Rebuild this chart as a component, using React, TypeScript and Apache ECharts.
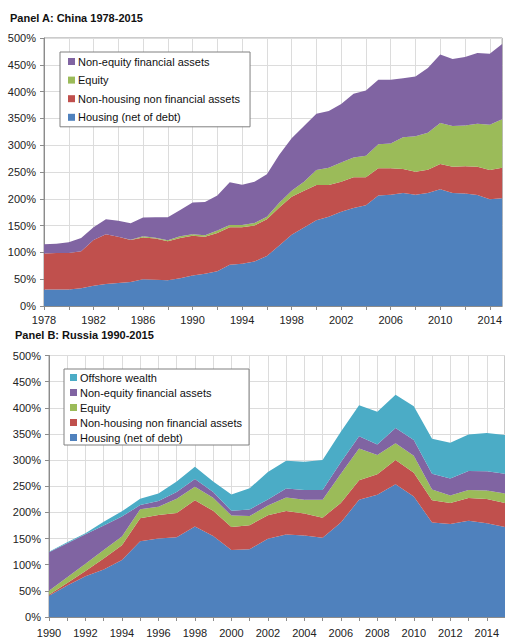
import React, { useEffect, useRef } from "react";
import * as echarts from "echarts";

const chinaYears = ["1978","1979","1980","1981","1982","1983","1984","1985","1986","1987","1988","1989","1990","1991","1992","1993","1994","1995","1996","1997","1998","1999","2000","2001","2002","2003","2004","2005","2006","2007","2008","2009","2010","2011","2012","2013","2014","2015"];
const chinaHousing = [31,31,31,33,38,41,43,45,50,49,48,52,57,60,65,77,79,83,93.5,113,133,146.5,160,166.5,176,183,188,206,207.6,211,207.6,211,218,211,210,207,199,201];
const chinaNonHousing = [67,68,68,69,85,93,86,78,78,77,73,75,74,69,71,70,68,67,68.5,71,71,68.5,65.7,59.2,56,57,52,51,49.4,44.6,43,43,47,49,50.6,53,54.7,57];
const chinaEquity = [0,0,0,0,0,0,0,0.5,2,1.5,1.5,3,3,3,5,4,4,5,4.5,8.6,11,17,28,32.3,35.5,37,40.5,44.7,46,59.2,66.1,69,76.6,76,76.1,79.8,84.3,90.5];
const chinaNonEquity = [17,17,20,25,24,28,30,31,35,38,43,49,59,62,65,80,75,77,79.5,89.4,98,104,104.8,106,109.5,119,121.5,120.3,119,110.2,111.3,121,127.4,125,127.8,132.2,132.7,140.5];

const russiaYears = ["1990","1991","1992","1993","1994","1995","1996","1997","1998","1999","2000","2001","2002","2003","2004","2005","2006","2007","2008","2009","2010","2011","2012","2013","2014","2015"];
const russiaHousing = [40.6,60,78,91,109,145,150,152.5,173,155,128,129.6,149.5,157.6,155.8,151.4,180.7,224,233.6,253.6,230.5,180.7,177.6,183.8,179.4,172];
const russiaNonHousing = [1.9,5,10,21,28,44,45,46.5,50,48,44,46,45,45,42.2,38.6,37.3,37.7,39.3,46.7,45.5,42.3,40.4,43.6,46.1,46];
const russiaEquity = [7.5,11,14,16,17,17,16,27,26,25,22,17.5,18.5,26,26.3,34.3,56,60.3,36.8,31.7,32.4,21,14.4,15.6,16.2,18];
const russiaNonEquity = [74,65,56,47,38,8,11,13,15,11,9,12.5,11.5,17.3,18.7,18.7,22,23.8,20.3,29.4,29.9,30,32.4,36,36.8,38];
const russiaOffshore = [1,2,2,7,10,12,14,20,23.5,20,31,40.5,52.7,53,54,57.3,58,59.2,62.5,63.6,64.7,66.8,68.5,70,73.5,74];

const NAME_H = "Housing (net of debt)";
const NAME_NH = "Non-housing non financial assets";
const NAME_EQ = "Equity";
const NAME_NE = "Non-equity financial assets";
const NAME_OFF = "Offshore wealth";

const C_BLUE = "#4F81BD";
const C_RED = "#C0504D";
const C_GREEN = "#9BBB59";
const C_PURPLE = "#8064A2";
const C_TEAL = "#4BACC6";

const FONT = "'Liberation Sans', Arial, sans-serif";

function areaSeries(name: string, data: number[], color: string, idx: number, stack: string) {
  return {
    name,
    type: "line",
    data,
    stack,
    xAxisIndex: idx,
    yAxisIndex: idx,
    symbol: "none",
    smooth: false,
    color,
    lineStyle: { width: 0, color },
    areaStyle: { color, opacity: 1 },
    itemStyle: { color },
    emphasis: { disabled: true },
  };
}

function xAxis(idx: number, data: string[], labelInterval: number, splitInterval: number, margin: number) {
  return {
    type: "category",
    gridIndex: idx,
    data,
    boundaryGap: false,
    axisLine: { show: true, lineStyle: { color: "#8c8c8c", width: 1 } },
    axisTick: { show: true, interval: splitInterval, length: 4, lineStyle: { color: "#8c8c8c" } },
    axisLabel: { interval: labelInterval, color: "#222", fontSize: 11, fontFamily: FONT, margin },
    splitLine: { show: true, interval: splitInterval, lineStyle: { color: "#dcdcdc", width: 1 } },
  };
}

function yAxis(idx: number) {
  return {
    type: "value",
    gridIndex: idx,
    min: 0,
    max: 500,
    interval: 50,
    axisLine: { show: true, lineStyle: { color: "#8c8c8c", width: 1 } },
    axisTick: { show: true, length: 4, lineStyle: { color: "#8c8c8c" } },
    axisLabel: { formatter: "{value}%", color: "#222", fontSize: 11, fontFamily: FONT, margin: 8 },
    splitLine: { show: true, lineStyle: { color: "#dcdcdc", width: 1 } },
  };
}

export default function App() {
  const ref = useRef<HTMLDivElement>(null);
  useEffect(() => {
    if (!ref.current) return;
    const chart = echarts.init(ref.current, undefined, { renderer: "svg" });
    const option = {
      animation: false,
      textStyle: { fontFamily: FONT },
      title: [
        { text: "Panel A: China 1978-2015", left: 10, top: 12, textStyle: { fontSize: 11, fontWeight: "bold", color: "#111", fontFamily: FONT }, padding: 0 },
        { text: "Panel B: Russia 1990-2015", left: 15, top: 329, textStyle: { fontSize: 11, fontWeight: "bold", color: "#111", fontFamily: FONT }, padding: 0 },
      ],
      grid: [
        { left: 44, top: 38, width: 461.5, height: 268, show: true, borderColor: "#999", borderWidth: 1, backgroundColor: "transparent" },
        { left: 49, top: 355.5, width: 462.5, height: 268, show: true, borderColor: "#999", borderWidth: 1, backgroundColor: "transparent" },
      ],
      xAxis: [xAxis(0, chinaYears, 3, 1, 8), xAxis(1, russiaYears, 1, 0, 10)],
      yAxis: [yAxis(0), yAxis(1)],
      legend: [
        {
          data: [NAME_NE, NAME_EQ, NAME_NH, NAME_H],
          orient: "vertical",
          left: 60,
          top: 52,
          padding: [4, 10, 4, 8],
          itemGap: 7.6,
          itemWidth: 7,
          itemHeight: 7,
          icon: "rect",
          borderColor: "#808080",
          borderWidth: 1,
          backgroundColor: "#fff",
          textStyle: { fontSize: 11, color: "#111", fontFamily: FONT, padding: [0, 0, 0, -2] },
          selectedMode: false,
        },
        {
          data: [NAME_OFF, NAME_NE, NAME_EQ, NAME_NH, NAME_H],
          orient: "vertical",
          left: 64,
          top: 369,
          padding: [3, 7, 2, 6],
          itemGap: 4,
          itemWidth: 7,
          itemHeight: 7,
          icon: "rect",
          borderColor: "#808080",
          borderWidth: 1,
          backgroundColor: "#fff",
          textStyle: { fontSize: 11, color: "#111", fontFamily: FONT, padding: [0, 0, 0, -2] },
          selectedMode: false,
        },
      ],
      series: [
        areaSeries(NAME_H, chinaHousing, C_BLUE, 0, "china"),
        areaSeries(NAME_NH, chinaNonHousing, C_RED, 0, "china"),
        areaSeries(NAME_EQ, chinaEquity, C_GREEN, 0, "china"),
        areaSeries(NAME_NE, chinaNonEquity, C_PURPLE, 0, "china"),
        areaSeries(NAME_H, russiaHousing, C_BLUE, 1, "russia"),
        areaSeries(NAME_NH, russiaNonHousing, C_RED, 1, "russia"),
        areaSeries(NAME_EQ, russiaEquity, C_GREEN, 1, "russia"),
        areaSeries(NAME_NE, russiaNonEquity, C_PURPLE, 1, "russia"),
        areaSeries(NAME_OFF, russiaOffshore, C_TEAL, 1, "russia"),
      ],
    };
    chart.setOption(option as any);
    return () => chart.dispose();
  }, []);
  return (
    <div
      ref={ref}
      style={{ position: "absolute", left: 0, top: 0, width: 505, height: 638, overflow: "hidden", background: "#fff" }}
    />
  );
}
